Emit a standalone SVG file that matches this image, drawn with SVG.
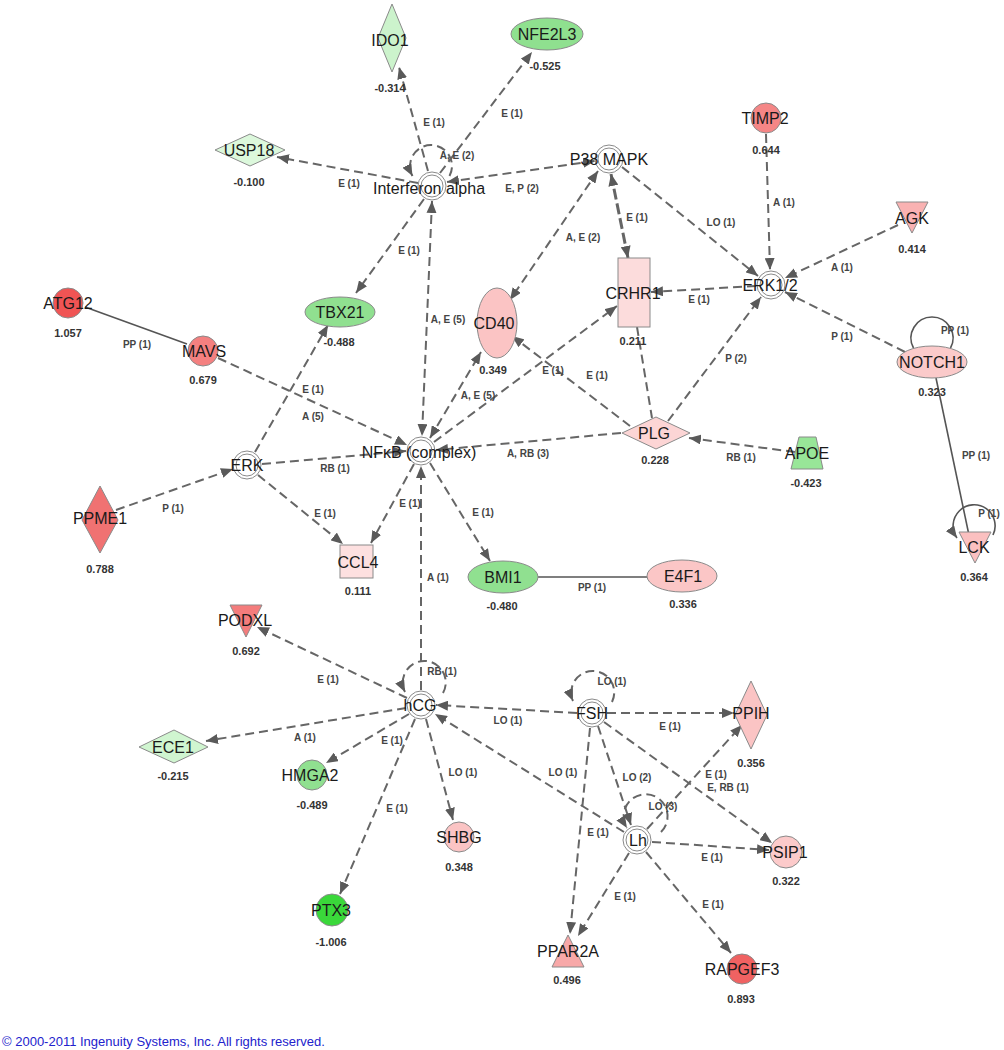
<svg xmlns="http://www.w3.org/2000/svg" width="1004" height="1050" viewBox="0 0 1004 1050">
<defs>
<marker id="ah" viewBox="0 0 12 10" refX="12" refY="5" markerWidth="12" markerHeight="10" markerUnits="userSpaceOnUse" orient="auto-start-reverse"><path d="M0,0L12,5L0,10z" fill="#5a5a5a"/></marker>
<style>
.e{fill:none;stroke:#666;stroke-width:2;stroke-dasharray:9 5;marker-end:url(#ah)}
.b{marker-start:url(#ah)}
.s{fill:none;stroke:#555;stroke-width:1.6}
.n{stroke:#8a8a8a;stroke-width:1}
.dc{fill:#fff;stroke:#8a8a8a;stroke-width:1}
.t{font-family:"Liberation Sans",Arial,sans-serif;font-size:16px;fill:#1a1a1a;text-anchor:middle}
.v{font-family:"Liberation Sans",Arial,sans-serif;font-size:11px;font-weight:bold;fill:#333;text-anchor:middle}
.l{font-family:"Liberation Sans",Arial,sans-serif;font-size:10px;font-weight:bold;fill:#444;text-anchor:middle}
.c{font-family:"Liberation Sans",Arial,sans-serif;font-size:13px;fill:#2222cc}
</style>
</defs>
<rect width="1004" height="1050" fill="#fff"/>
<g id="connectors">
<line class="e" x1="428" y1="171" x2="399" y2="67"/>
<line class="e" x1="440" y1="173" x2="532" y2="52"/>
<line class="e" x1="418" y1="183" x2="277" y2="157"/>
<path class="e" d="M449.5,176 A21,21 0 1 0 412.5,176"/>
<line class="e b" x1="447" y1="182" x2="595" y2="161"/>
<line class="e" x1="424" y1="199" x2="356" y2="293"/>
<line class="e b" x1="432" y1="201" x2="422" y2="436"/>
<line class="e b" x1="598" y1="171" x2="510" y2="300"/>
<line class="e b" x1="611" y1="174" x2="628" y2="258" style="stroke-width:3;stroke-dasharray:11 4"/>
<line class="e" x1="622" y1="167" x2="758" y2="276"/>
<line class="e" x1="766" y1="134" x2="770" y2="270"/>
<line class="e" x1="898" y1="225" x2="785" y2="278"/>
<line class="e" x1="756" y1="286" x2="651" y2="292"/>
<line class="e" x1="905" y1="352" x2="785" y2="292"/>
<line class="e" x1="668" y1="421" x2="761" y2="297"/>
<line class="e" x1="637" y1="327" x2="652" y2="418" style="marker-end:none"/>
<line class="e" x1="434" y1="442" x2="617" y2="306"/>
<line class="e" x1="630" y1="426" x2="512" y2="336"/>
<line class="e" x1="218" y1="358" x2="407" y2="445"/>
<line class="e" x1="255" y1="452" x2="328" y2="325"/>
<line class="e" x1="262" y1="464" x2="406" y2="451"/>
<line class="e" x1="116" y1="510" x2="233" y2="469"/>
<line class="e" x1="258" y1="475" x2="343" y2="544"/>
<line class="e" x1="414" y1="464" x2="371" y2="543"/>
<line class="e" x1="430" y1="463" x2="490" y2="561"/>
<line class="e" x1="421" y1="690" x2="421" y2="466"/>
<line class="e b" x1="430" y1="438" x2="481" y2="352"/>
<line class="e" x1="621" y1="433" x2="436" y2="450"/>
<line class="e" x1="795" y1="452" x2="689" y2="438"/>
<line class="e" x1="407" y1="698" x2="257" y2="627"/>
<path class="e" d="M443,693 A21.5,21.5 0 1 0 405,692"/>
<line class="e" x1="406" y1="708" x2="206" y2="741"/>
<line class="e" x1="409" y1="714" x2="326" y2="763"/>
<line class="e" x1="415" y1="719" x2="340" y2="894"/>
<line class="e" x1="426" y1="719" x2="453" y2="820"/>
<line class="e" x1="577" y1="713" x2="436" y2="705"/>
<line class="e" x1="624" y1="832" x2="435" y2="714"/>
<path class="e" d="M612,702 A21.5,21.5 0 1 0 573,701"/>
<line class="e" x1="607" y1="713" x2="734" y2="713"/>
<line class="e" x1="598" y1="726" x2="631" y2="825"/>
<line class="e" x1="590" y1="728" x2="570" y2="934"/>
<line class="e" x1="604" y1="722" x2="772" y2="843"/>
<path class="e" d="M661,832 A22,22 0 1 0 627,828"/>
<line class="e" x1="647" y1="829" x2="742" y2="725"/>
<line class="e" x1="652" y1="842" x2="769" y2="850"/>
<line class="e" x1="646" y1="852" x2="731" y2="953"/>
<line class="e" x1="629" y1="853" x2="578" y2="936"/>
<line class="s" x1="85" y1="307" x2="187" y2="344"/>
<line class="s" x1="538" y1="577" x2="647" y2="577"/>
<line class="s" x1="936" y1="378" x2="970" y2="540"/>
<path class="s" d="M950.5,348 A21,21 0 1 0 913.5,348"/>
<path class="s" d="M993,535 A21,21 0 1 0 957,538" style="marker-end:url(#ah)"/>
</g>
<g id="edge-labels">
<text class="l" x="434" y="126">E (1)</text>
<text class="l" x="512" y="117">E (1)</text>
<text class="l" x="349" y="187">E (1)</text>
<text class="l" x="457" y="159">A, E (2)</text>
<text class="l" x="522" y="192">E, P (2)</text>
<text class="l" x="409" y="254">E (1)</text>
<text class="l" x="583" y="241">A, E (2)</text>
<text class="l" x="637" y="221">E (1)</text>
<text class="l" x="721" y="226">LO (1)</text>
<text class="l" x="784" y="206">A (1)</text>
<text class="l" x="842" y="271">A (1)</text>
<text class="l" x="699" y="303">E (1)</text>
<text class="l" x="842" y="340">P (1)</text>
<text class="l" x="736" y="362">P (2)</text>
<text class="l" x="955" y="334">PP (1)</text>
<text class="l" x="976" y="459">PP (1)</text>
<text class="l" x="989" y="517">P (1)</text>
<text class="l" x="448" y="323">A, E (5)</text>
<text class="l" x="478" y="399">A, E (5)</text>
<text class="l" x="553" y="374">E (1)</text>
<text class="l" x="597" y="379">E (1)</text>
<text class="l" x="313" y="393">E (1)</text>
<text class="l" x="313" y="420">A (5)</text>
<text class="l" x="137" y="348">PP (1)</text>
<text class="l" x="335" y="472">RB (1)</text>
<text class="l" x="173" y="512">P (1)</text>
<text class="l" x="325" y="517">E (1)</text>
<text class="l" x="410" y="507">E (1)</text>
<text class="l" x="483" y="516">E (1)</text>
<text class="l" x="438" y="581">A (1)</text>
<text class="l" x="528" y="457">A, RB (3)</text>
<text class="l" x="741" y="461">RB (1)</text>
<text class="l" x="592" y="591">PP (1)</text>
<text class="l" x="328" y="683">E (1)</text>
<text class="l" x="442" y="675">RB (1)</text>
<text class="l" x="305" y="741">A (1)</text>
<text class="l" x="392" y="744">E (1)</text>
<text class="l" x="463" y="776">LO (1)</text>
<text class="l" x="397" y="812">E (1)</text>
<text class="l" x="508" y="724">LO (1)</text>
<text class="l" x="563" y="776">LO (1)</text>
<text class="l" x="612" y="685">LO (1)</text>
<text class="l" x="670" y="730">E (1)</text>
<text class="l" x="637" y="781">LO (2)</text>
<text class="l" x="598" y="836">E (1)</text>
<text class="l" x="663" y="810">LO (3)</text>
<text class="l" x="716" y="778">E (1)</text>
<text class="l" x="728" y="791">E, RB (1)</text>
<text class="l" x="712" y="861">E (1)</text>
<text class="l" x="713" y="908">E (1)</text>
<text class="l" x="625" y="900">E (1)</text>
</g>
<g id="IDO1"><polygon class="n" points="392,4 406,38 392,72 378,38" fill="#ccf3cc"/><text class="t" x="390" y="46">IDO1</text><text class="v" x="390" y="92">-0.314</text></g>
<g id="NFE2L3"><ellipse class="n" cx="547" cy="34" rx="36" ry="16" fill="#8fe08f"/><text class="t" x="547" y="40">NFE2L3</text><text class="v" x="545" y="70">-0.525</text></g>
<g id="USP18"><polygon class="n" points="250,134 285,150 250,166 215,150" fill="#dcf8dc"/><text class="t" x="249" y="156">USP18</text><text class="v" x="249" y="186">-0.100</text></g>
<g id="Interferon-alpha"><circle class="dc" cx="432" cy="186" r="14"/><circle class="dc" cx="432" cy="186" r="11"/><text class="t" x="429" y="194">Interferon alpha</text></g>
<g id="P38-MAPK"><circle class="dc" cx="609" cy="159" r="14"/><circle class="dc" cx="609" cy="159" r="11"/><text class="t" x="609" y="165">P38 MAPK</text></g>
<g id="TIMP2"><circle class="n" cx="766" cy="118" r="15" fill="#f58686"/><text class="t" x="765" y="124">TIMP2</text><text class="v" x="766" y="154">0.644</text></g>
<g id="AGK"><polygon class="n" points="896,202 928,202 912,233" fill="#f9b2b2"/><text class="t" x="912" y="224">AGK</text><text class="v" x="912" y="253">0.414</text></g>
<g id="ERK1-2"><circle class="dc" cx="771" cy="285" r="14"/><circle class="dc" cx="771" cy="285" r="11"/><text class="t" x="770" y="291">ERK1/2</text></g>
<g id="CRHR1"><rect class="n" x="618" y="258" width="32" height="69" fill="#fcdcdc"/><text class="t" x="633" y="299">CRHR1</text><text class="v" x="633" y="345">0.211</text></g>
<g id="TBX21"><ellipse class="n" cx="340" cy="312" rx="35" ry="15" fill="#90e090"/><text class="t" x="340" y="318">TBX21</text><text class="v" x="339" y="346">-0.488</text></g>
<g id="CD40"><ellipse class="n" cx="497" cy="323" rx="20" ry="35" fill="#fbc4c4"/><text class="t" x="494" y="329">CD40</text><text class="v" x="493" y="374">0.349</text></g>
<g id="ATG12"><circle class="n" cx="68" cy="303" r="15" fill="#f05454"/><text class="t" x="68" y="309">ATG12</text><text class="v" x="68" y="337">1.057</text></g>
<g id="MAVS"><circle class="n" cx="203" cy="351" r="15" fill="#f48080"/><text class="t" x="204" y="357">MAVS</text><text class="v" x="203" y="384">0.679</text></g>
<g id="NOTCH1"><ellipse class="n" cx="932" cy="362" rx="35" ry="16" fill="#fbcaca"/><text class="t" x="932" y="368">NOTCH1</text><text class="v" x="932" y="396">0.323</text></g>
<g id="NFkB-complex"><circle class="dc" cx="421" cy="451" r="14"/><circle class="dc" cx="421" cy="451" r="11"/><text class="t" x="419" y="458">NFκB (complex)</text></g>
<g id="PLG"><polygon class="n" points="622,433 656,417 690,433 656,449" fill="#fcd5d5"/><text class="t" x="654" y="439">PLG</text><text class="v" x="655" y="464">0.228</text></g>
<g id="APOE"><polygon class="n" points="799,437 816,437 823,469 791,469" fill="#98e698"/><text class="t" x="807" y="459">APOE</text><text class="v" x="806" y="487">-0.423</text></g>
<g id="ERK"><circle class="dc" cx="247" cy="465" r="14"/><circle class="dc" cx="247" cy="465" r="11"/><text class="t" x="247" y="471">ERK</text></g>
<g id="PPME1"><polygon class="n" points="100,486 118,520 100,553 82,520" fill="#f07272"/><text class="t" x="100" y="524">PPME1</text><text class="v" x="100" y="573">0.788</text></g>
<g id="LCK"><polygon class="n" points="959,532 991,532 975,563" fill="#fbc0c0"/><text class="t" x="974" y="553">LCK</text><text class="v" x="974" y="581">0.364</text></g>
<g id="CCL4"><rect class="n" x="340" y="545" width="33" height="33" fill="#fde0e0"/><text class="t" x="358" y="568">CCL4</text><text class="v" x="358" y="595">0.111</text></g>
<g id="BMI1"><ellipse class="n" cx="503" cy="577" rx="35" ry="16" fill="#90e090"/><text class="t" x="503" y="583">BMI1</text><text class="v" x="502" y="610">-0.480</text></g>
<g id="E4F1"><ellipse class="n" cx="682" cy="576" rx="35" ry="16" fill="#fbc6c6"/><text class="t" x="683" y="582">E4F1</text><text class="v" x="683" y="608">0.336</text></g>
<g id="PODXL"><polygon class="n" points="230,605 262,605 246,637" fill="#f47c7c"/><text class="t" x="245" y="626">PODXL</text><text class="v" x="246" y="655">0.692</text></g>
<g id="hCG"><circle class="dc" cx="421" cy="705" r="14"/><circle class="dc" cx="421" cy="705" r="11"/><text class="t" x="420" y="711">hCG</text></g>
<g id="FSH"><circle class="dc" cx="592" cy="713" r="14"/><circle class="dc" cx="592" cy="713" r="11"/><text class="t" x="592" y="719">FSH</text></g>
<g id="PPIH"><polygon class="n" points="751,681 767,715 751,749 735,715" fill="#fbc4c4"/><text class="t" x="751" y="719">PPIH</text><text class="v" x="751" y="767">0.356</text></g>
<g id="ECE1"><polygon class="n" points="139,747 174,730 208,747 174,763" fill="#d0f5d0"/><text class="t" x="173" y="753">ECE1</text><text class="v" x="173" y="780">-0.215</text></g>
<g id="HMGA2"><circle class="n" cx="312" cy="775" r="15" fill="#90e090"/><text class="t" x="310" y="781">HMGA2</text><text class="v" x="312" y="809">-0.489</text></g>
<g id="SHBG"><circle class="n" cx="459" cy="837" r="15" fill="#fbc4c4"/><text class="t" x="459" y="843">SHBG</text><text class="v" x="459" y="871">0.348</text></g>
<g id="Lh"><circle class="dc" cx="637" cy="840" r="14"/><circle class="dc" cx="637" cy="840" r="11"/><text class="t" x="638" y="846">Lh</text></g>
<g id="PSIP1"><circle class="n" cx="786" cy="852" r="16" fill="#fccaca"/><text class="t" x="785" y="858">PSIP1</text><text class="v" x="786" y="885">0.322</text></g>
<g id="PTX3"><circle class="n" cx="332" cy="910" r="16" fill="#3ad83a"/><text class="t" x="331" y="916">PTX3</text><text class="v" x="331" y="946">-1.006</text></g>
<g id="PPAR2A"><polygon class="n" points="568,935 584,967 552,967" fill="#f8a8a8"/><text class="t" x="568" y="957">PPAR2A</text><text class="v" x="567" y="984">0.496</text></g>
<g id="RAPGEF3"><circle class="n" cx="742" cy="969" r="15" fill="#f06262"/><text class="t" x="742" y="975">RAPGEF3</text><text class="v" x="741" y="1003">0.893</text></g>
<text class="c" x="2" y="1046">© 2000-2011 Ingenuity Systems, Inc. All rights reserved.</text>
</svg>
